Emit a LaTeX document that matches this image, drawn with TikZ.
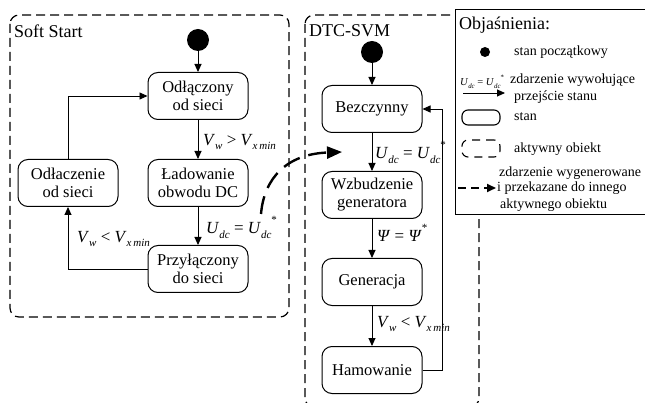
\documentclass[tikz,border=0pt]{standalone}
\usepackage{fontspec}
\setmainfont{Liberation Serif}
\usetikzlibrary{arrows.meta}
\newcommand{\mysub}[1]{\raisebox{-0.28em}{\fontsize{11}{11}\selectfont\itshape #1}}
\newcommand{\mysup}[1]{\raisebox{0.6em}{\fontsize{11}{11}\selectfont #1}}
\newcommand{\Vw}{\textit{V}\mysub{w}}
\newcommand{\Vx}{\textit{V}\mysub{x\,min}}
\newcommand{\Udc}{\textit{U}\mysub{dc}}
\newcommand{\Udcs}{\textit{U}\mysub{dc}\mysup{*}}
\begin{document}
\begin{tikzpicture}[x=1pt,y=-1pt,
  state/.style={draw, rounded corners=10pt, minimum width=100pt, minimum height=47pt,
    align=center, line width=1pt, inner sep=0pt,
    font=\fontsize{16.5}{18}\selectfont},
  initst/.style={circle, fill, minimum size=22pt, inner sep=0pt},
  arr/.style={-{Triangle[length=8pt,width=7pt]}, line width=0.9pt},
  region/.style={draw, dash pattern=on 9pt off 5pt, line width=1.2pt, rounded corners=9pt},
  lbl/.style={anchor=west, inner sep=0pt, font=\fontsize{17}{20}\selectfont},
  ttl/.style={anchor=west, inner sep=0pt, font=\fontsize{18}{20}\selectfont},
  leg/.style={anchor=west, inner sep=0pt, font=\fontsize{14}{16}\selectfont},
]
\useasboundingbox (0,0) rectangle (645,403);
\fill[white] (0,0) rectangle (645,403);

% regions
\draw[region] (10,15) rectangle (289,317);
\draw[region] (305,15) rectangle (479,407);
\node[ttl] (tss) at (14,31) {Soft Start};
\node[ttl] (tdtc) at (309,31) {DTC-SVM};

% Soft Start
\node[initst] (i1) at (198,40) {};
\node[state] (odl) at (198,96) {Odłączony\\od sieci};
\node[state] (lad) at (198,183) {Ładowanie\\obwodu DC};
\node[state] (prz) at (198,269) {Przyłączony\\do sieci};
\node[state] (odc) at (68,183) {Odłaczenie\\od sieci};

\draw[arr] (i1) -- (odl);
\draw[arr] (odl) -- (lad);
\draw[arr] (lad) -- (prz);
\draw[arr] (prz.west) -| (odc.south);
\draw[arr] (odc.north) |- (odl.west);

\node[lbl] (l1) at (203,142) {\Vw{} > \Vx};
\node[lbl] (l2) at (206,227) {\Udc{} = \Udcs};
\node[lbl] (l3) at (77,239) {\Vw{} < \Vx};

% DTC-SVM
\node[initst] (i2) at (372,52) {};
\node[state] (bez) at (372,109) {Bezczynny};
\node[state] (wzb) at (372,195) {Wzbudzenie\\generatora};
\node[state] (gen) at (372,282) {Generacja};
\node[state] (ham) at (372,370) {Hamowanie};

\draw[arr] (i2) -- (bez);
\draw[arr] (bez) -- (wzb);
\draw[arr] (wzb) -- (gen);
\draw[arr] (gen) -- (ham);
\draw[arr] (ham.east) -- ++(20,0) |- (bez.east);

\node[lbl] (l4) at (375,152) {\Udc{} = \Udcs};
\node[lbl] (l5) at (377,233) {\textit{Ψ} = \textit{Ψ}\mysup{*}};
\node[lbl] (l6) at (377,324) {\Vw{} < \Vx};

% inter-object event
\coordinate (cs) at (261,214);
\coordinate (ce) at (342,152);
\draw[line width=2.4pt, dash pattern=on 18pt off 9pt, -{Triangle[length=15pt,width=12pt]}]
  (cs) .. controls (264,178) and (287,154) .. (ce);

% legend
\draw[fill=white, line width=1pt] (455,10) rectangle (648,215);
\node[ttl] (lt) at (459,25) {Objaśnienia:};
\node[circle, fill, minimum size=10pt, inner sep=0pt] (lgi) at (485,52) {};
\node[leg] (lg1) at (514,52) {stan początkowy};
\coordinate (la1) at (463,93);
\coordinate (la2) at (505,93);
\draw[arr] (la1) -- (la2);
\node[scale=0.62, inner sep=0pt, font=\fontsize{17}{20}\selectfont] (lgu) at (482,82) {\Udc{} = \Udcs};
\node[leg] (lg2a) at (510,80) {zdarzenie wywołujące};
\node[leg] (lg2b) at (514,97) {przejście stanu};
\node[draw, rounded corners=6pt, line width=1.1pt, minimum width=38pt, minimum height=15pt] (lgs) at (481,117.5) {};
\node[leg] (lg3) at (514,117) {stan};
\node[draw, dash pattern=on 8pt off 6pt, rounded corners=6pt, line width=1.1pt, minimum width=38pt, minimum height=17pt] (lgo) at (481,148.5) {};
\node[leg] (lg4) at (514,149) {aktywny obiekt};
\node[leg] (lg5a) at (499,173) {zdarzenie wygenerowane};
\coordinate (ld1) at (458,188);
\coordinate (ld2) at (496,188);
\draw[line width=1.8pt, dash pattern=on 8pt off 5pt, -{Triangle[length=9pt,width=8pt]}] (ld1) -- (ld2);
\node[leg] (lg5b) at (497,188) {i przekazane do innego};
\node[leg] (lg5c) at (500,205) {aktywnego obiektu};
\end{tikzpicture}
\end{document}
